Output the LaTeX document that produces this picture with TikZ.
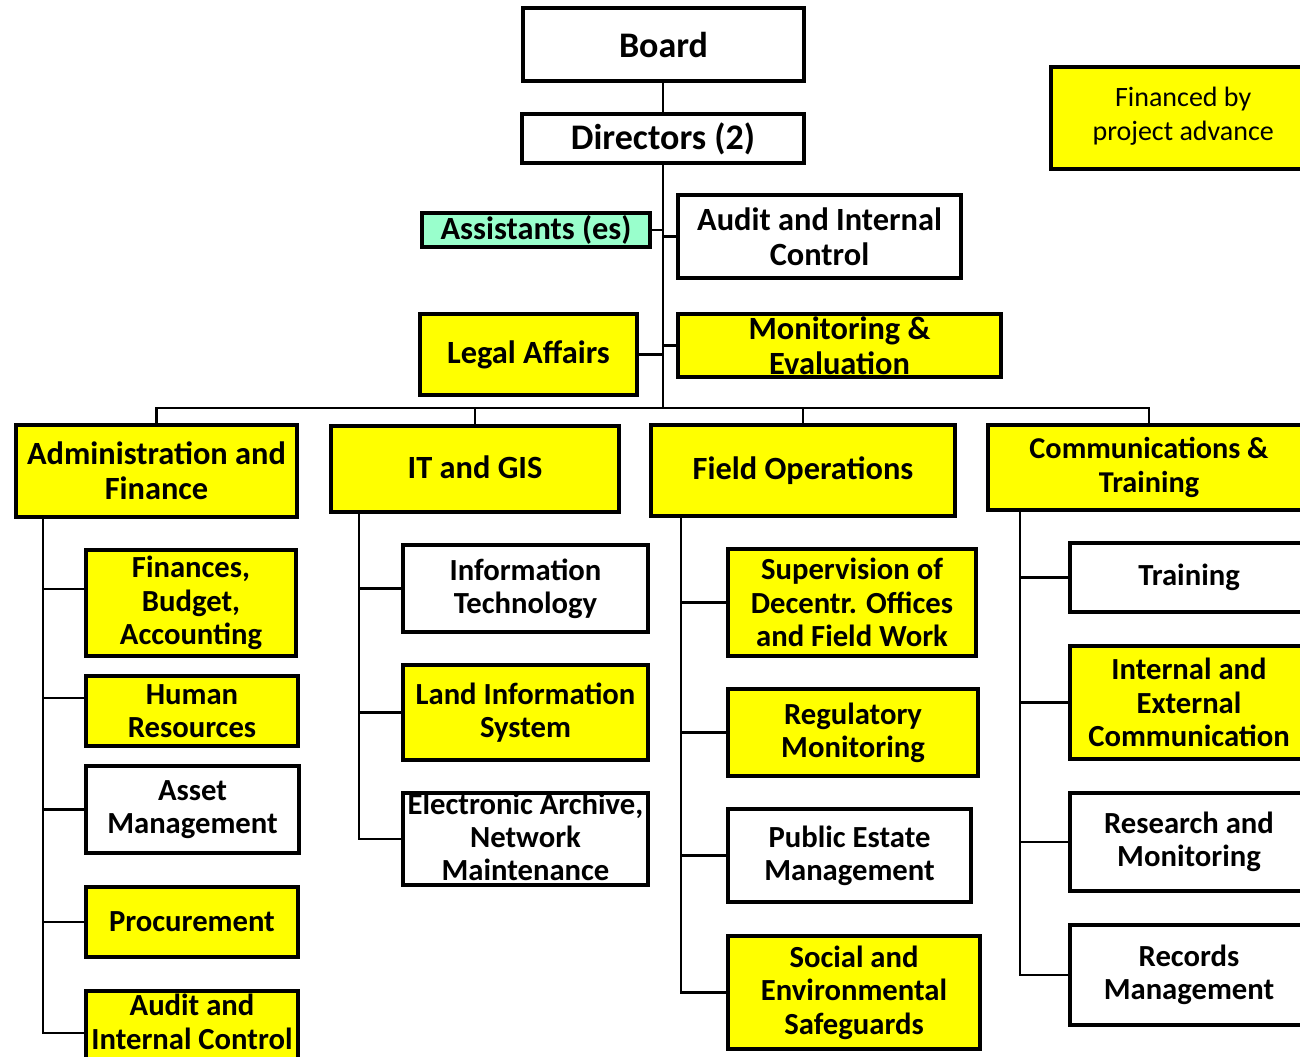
\documentclass[tikz,border=0pt]{standalone}
\usepackage{fontspec}
\setmainfont{Carlito}
\usetikzlibrary{fit}
\definecolor{mintc}{RGB}{153,255,204}
\definecolor{yelc}{RGB}{255,255,0}
\begin{document}
\begin{tikzpicture}[x=0.75pt,y=-0.75pt,
  box/.style={draw=black, line width=3pt, inner sep=0pt, outer sep=0pt},
  yel/.style={box, fill=yelc},
  wht/.style={box, fill=white},
  mint/.style={box, fill=mintc},
  big/.style={font=\bfseries\fontsize{27}{30}\selectfont, align=center},
  lvl/.style={font=\bfseries\fontsize{24.3}{26.5}\selectfont, align=center},
  sub/.style={font=\bfseries\fontsize{23}{25}\selectfont, align=center},
  finf/.style={font=\fontsize{21}{25.5}\selectfont, align=center},
  conn/.style={line width=1.7pt, line cap=rect}]
\useasboundingbox (0,0) rectangle (1300,1057);
\fill[white] (0,0) rectangle (1300,1057);
\clip (0,0) rectangle (1300,1057);

% top part
\node[wht, fit={(523,8) (804,81)}, label={[big]center:Board}] (board) {};
\node[wht, fit={(522,114) (804,163)}, label={[big]center:Directors (2)}] (dir) {};
\node[mint, fit={(422,213) (650,247)}, label={[lvl]center:Assistants (es)}] (asst) {};
\node[wht, fit={(678,195) (961,278)}, label={[lvl]center:{Audit and Internal\\Control}}] (auditT) {};
\node[yel, fit={(420,314) (637,395)}, label={[lvl]center:Legal Affairs}] (legal) {};
\node[yel, fit={(678,314) (1001,377)}, label={[lvl]center:{Monitoring \&\\Evaluation}}] (mon) {};
\node[yel, fit={(1051,67) (1318,169)}, label={[finf,xshift=-1pt,yshift=1.5pt]center:{Financed by\\project advance}}] (finadv) {};

% departments
\node[yel, fit={(16,425) (297,517)}, label={[lvl]center:{Administration and\\Finance}}] (admin) {};
\node[yel, line width=2.5pt, fit={(331,426) (619,512)}, label={[lvl,yshift=1.5pt]center:IT and GIS}] (it) {};
\node[yel, fit={(651,425) (955,516)}, label={[lvl]center:Field Operations}] (field) {};
\node[yel, fit={(988,425) (1310,510)}, label={[sub,font=\bfseries\fontsize{22.7}{25}\selectfont]center:{Communications \&\\Training}}] (comms) {};

% Administration children
\node[yel, fit={(86,550) (296,656)}, label={[sub]center:{Finances,\\Budget,\\Accounting}}] (fin) {};
\node[yel, fit={(86,676) (298,746)}, label={[sub]center:{Human\\Resources}}] (hr) {};
\node[wht, fit={(86,766) (299,853)}, label={[sub]center:{Asset\\Management}}] (asset) {};
\node[yel, fit={(86,887) (298,957)}, label={[sub]center:Procurement}] (proc) {};
\node[yel, fit={(86,991) (298,1075)}, label={[sub,yshift=8.25pt]center:{Audit and\\Internal Control}}] (audB) {};

% IT children
\node[wht, fit={(403,545) (648,632)}, label={[sub]center:{Information\\Technology}}] (itech) {};
\node[yel, fit={(403,665) (648,760)}, label={[sub]center:{Land Information\\System}}] (lis) {};
\node[wht, fit={(403,793) (648,885)}, label={[sub,yshift=1.5pt]center:{Electronic Archive,\\Network\\Maintenance}}] (ea) {};

% Field children
\node[yel, fit={(728,549) (976,656)}, label={[sub]center:{Supervision of\\Decentr. Offices\\and Field Work}}] (sup) {};
\node[yel, fit={(728,689) (978,776)}, label={[sub]center:{Regulatory\\Monitoring}}] (reg) {};
\node[wht, fit={(728,809) (971,902)}, label={[sub]center:{Public Estate\\Management}}] (pub) {};
\node[yel, fit={(728,936) (980,1049)}, label={[sub]center:{Social and\\Environmental\\Safeguards}}] (soc) {};

% Comms children
\node[wht, fit={(1070,543) (1308,612)}, label={[sub]center:Training}] (trn) {};
\node[yel, fit={(1070,646) (1308,759)}, label={[sub]center:{Internal and\\External\\Communication}}] (ie) {};
\node[wht, fit={(1070,793) (1308,891)}, label={[sub]center:{Research and\\Monitoring}}] (res) {};
\node[wht, fit={(1070,925) (1308,1025)}, label={[sub]center:{Records\\Management}}] (rec) {};

% connectors top
\coordinate (bus) at (663,408);
\coordinate (trunk) at (663,0);
\draw[conn] (board.south -| trunk) -- (dir.north -| trunk);
\draw[conn] (dir.south -| trunk) -- (bus);
\draw[conn] (asst.east) -- (asst.east -| trunk);
\draw[conn] (auditT.west -| trunk) -- (auditT.west);
\draw[conn] (legal.east) -- (legal.east -| trunk);
\draw[conn] (mon.west -| trunk) -- (mon.west);
\draw[conn] (admin.north) -- (admin.north |- bus) -- (comms.north |- bus) -- (comms.north);
\draw[conn] (it.north |- bus) -- (it.north);
\draw[conn] (field.north |- bus) -- (field.north);

% admin spine
\coordinate (aS) at (43,0);
\draw[conn] (admin.south -| aS) |- (audB.west);
\coordinate (finC) at ([yshift=10.5pt]fin.west);
\coordinate (hrC) at ([yshift=9.75pt]hr.west);
\draw[conn] (finC -| aS) -- (finC);
\draw[conn] (hrC -| aS) -- (hrC);
\draw[conn] (asset.west -| aS) -- (asset.west);
\draw[conn] (proc.west -| aS) -- (proc.west);

% IT spine
\coordinate (iS) at (359,0);
\draw[conn] (it.south -| iS) |- (ea.west);
\draw[conn] (itech.west -| iS) -- (itech.west);
\draw[conn] (lis.west -| iS) -- (lis.west);

% Field spine
\coordinate (fS) at (681,0);
\draw[conn] (field.south -| fS) |- (soc.west);
\draw[conn] (sup.west -| fS) -- (sup.west);
\draw[conn] (reg.west -| fS) -- (reg.west);
\draw[conn] (pub.west -| fS) -- (pub.west);

% Comms spine
\coordinate (cS) at (1020,0);
\draw[conn] (comms.south -| cS) |- (rec.west);
\draw[conn] (trn.west -| cS) -- (trn.west);
\draw[conn] (ie.west -| cS) -- (ie.west);
\draw[conn] (res.west -| cS) -- (res.west);
\end{tikzpicture}
\end{document}
